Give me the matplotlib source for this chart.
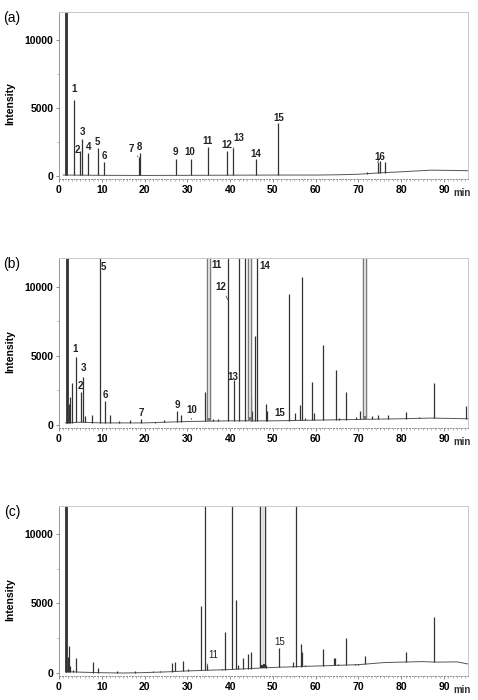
import numpy as np
import matplotlib
matplotlib.use("Agg")
import matplotlib.pyplot as plt
from matplotlib.ticker import MultipleLocator

plt.rcParams["font.family"] = ["Liberation Sans", "DejaVu Sans"]

# ---- panel (a) ----
base_t_a = [1.0, 10, 20, 30, 40, 50, 60, 65, 70, 75, 80, 87, 92, 95.6]
base_y_a = [60, 40, 30, 40, 50, 60, 60, 80, 120, 220, 300, 420, 400, 380]
peak_t_a = [1.6, 3.6, 4.9, 5.4, 6.85, 9.1, 10.5, 18.6, 18.9, 27.3, 30.8, 34.9,
            39.3, 40.7, 46.0, 51.3, 72.0, 74.5, 75.1, 76.2]
peak_h_a = [15000, 5600, 1800, 2700, 1700, 2050, 1050, 1400, 1700, 1250, 1250, 2150,
            1850, 2050, 1270, 3870, 300, 1000, 1100, 1050]
wide_t_a = []
lab_a = ["1", "2", "3", "4", "5", "6", "7", "8", "9", "10", "11", "12", "13", "14", "15", "16"]
lab_x_a = [3.5, 4.4, 5.4, 6.85, 8.95, 10.5, 16.8, 18.9, 27.3, 30.6, 34.8, 39.2, 42.0, 46.0, 51.3, 75.0]
lab_y_a = [6370, 1910, 3190, 2150, 2520, 1490, 1950, 2130, 1760, 1760, 2550, 2250, 2750, 1590, 4260, 1420]
lead_a = {"7": (18.5, 1400), "13": (40.8, 2050), "16": (74.5, 1000)}

# ---- panel (b) ----
base_t_b = [1.5, 5, 10, 20, 30, 40, 50, 60, 70, 80, 87, 95.6]
base_y_b = [150, 200, 150, 150, 250, 300, 300, 350, 400, 450, 500, 450]
peak_t_b = [1.8, 2.3, 2.6, 2.97, 3.9, 5.2, 5.7, 6.1, 7.8, 9.6, 10.75, 12.0, 14.0, 16.5,
            19.2, 22.5, 24.5, 27.6, 28.6, 31.0, 34.1, 36.0, 37.2, 39.6, 41.0, 42.06,
            43.4, 44.9, 45.2, 45.8, 46.3, 48.3, 48.6, 51.5, 53.8, 55.1, 56.3, 56.7,
            57.5, 59.2, 59.5, 61.8, 64.7, 65.5, 67.2, 69.5, 70.3, 73.2, 74.5, 77.0,
            81.2, 84.2, 87.6, 95.2]
peak_h_b = [15000, 1500, 2000, 3070, 4950, 2400, 3500, 650, 700, 15000, 1720, 700, 300, 350,
            440, 250, 350, 1000, 700, 300, 2370, 400, 450, 15000, 3260, 15000,
            15000, 2050, 1000, 6450, 15000, 1520, 1000, 300, 9500, 900, 1450, 10700,
            500, 3100, 900, 5800, 4000, 500, 2420, 600, 1000, 650, 750, 700,
            950, 600, 3070, 1400]
wide_t_b = [35.1, 44.6, 71.5]
lab_b = ["1", "2", "3", "5", "6", "7", "9", "10", "11", "12", "13", "14", "15"]
lab_x_b = [3.8, 4.9, 5.7, 10.4, 10.8, 19.2, 27.6, 31.1, 36.7, 37.9, 40.7, 48.0, 51.6]
lab_y_b = [5510, 2850, 4160, 11480, 2175, 900, 1470, 1050, 11600, 10000, 3500, 11530, 900]
lead_b = {"10": (31.0, 400), "12": (39.5, 9060), "14": (46.5, 10870)}

# ---- panel (c) ----
base_t_c = [1.5, 5, 10, 15, 20, 25, 30, 35, 40, 50, 60, 70, 76, 85, 88, 93, 95.6]
base_y_c = [100, 60, 20, 0, 30, 80, 150, 200, 250, 400, 500, 600, 750, 820, 780, 800, 650]
peak_t_c = [1.6, 2.1, 2.3, 2.6, 3.2, 4.0, 8.0, 9.1, 13.6, 17.8, 22.0, 23.5, 26.3, 27.2,
            29.0, 30.2, 33.3, 34.2, 34.6, 38.0, 38.8, 40.5, 41.4, 41.8, 42.9, 44.2,
            44.8, 48.4, 51.5, 53.0, 54.6, 55.4, 56.5, 56.8, 57.5, 59.0, 61.6, 64.3,
            64.6, 65.3, 67.2, 69.2, 70.0, 71.5, 81.2, 87.7]
peak_h_c = [15000, 1160, 1930, 500, 250, 1050, 800, 350, 150, 120, 150, 150, 740, 760,
            880, 300, 4850, 15000, 600, 300, 2950, 15000, 5260, 600, 1050, 1330,
            1480, 600, 1800, 400, 800, 15000, 2070, 1500, 600, 500, 1760, 1100,
            1100, 650, 2520, 650, 650, 1210, 1520, 4020]
wide_t_c = [47.4, 47.8]
lab_c = ["11", "15"]
lab_x_c = [36.0, 51.5]
lab_y_c = [1300, 2240]
lead_c = {"11": (34.6, 550)}

panels = [
    ("(a)", base_t_a, base_y_a, peak_t_a, peak_h_a, wide_t_a, lab_a, lab_x_a, lab_y_a, lead_a, "bold"),
    ("(b)", base_t_b, base_y_b, peak_t_b, peak_h_b, wide_t_b, lab_b, lab_x_b, lab_y_b, lead_b, "bold"),
    ("(c)", base_t_c, base_y_c, peak_t_c, peak_h_c, wide_t_c, lab_c, lab_x_c, lab_y_c, lead_c, "normal"),
]

W, H = 478, 700
fig = plt.figure(figsize=(W / 100, H / 100), dpi=100)

# axes boxes in pixels: (top, bottom)
boxes = [(12, 179), (258, 428), (506, 676)]
ylims = [(-230, 12050), (-220, 12100), (-215, 12000)]
wide_col = ["#444444", "#777777", "#333333"]
left_px, right_px = 59, 468

for i, (tag, bt, by, pt, ph, wt, labs, lx, ly, leads, lw8) in enumerate(panels):
    top, bot = boxes[i]
    ax = fig.add_axes([left_px / W, 1 - bot / H, (right_px - left_px) / W, (bot - top) / H])
    ax.set_xlim(0, 95.6)
    ax.set_ylim(*ylims[i])

    # baseline
    ax.plot(bt, by, color="#555555", lw=0.7)
    # peaks from baseline up
    feet = np.interp(pt, bt, by)
    ax.vlines(pt, feet, ph, color="#333333", lw=0.9)
    ax.vlines(pt[0], feet[0], ph[0], color="#333333", lw=2.0)
    if wt:
        wf = np.interp(wt, bt, by)
        ax.vlines(wt, wf, 15000, color=wide_col[i], lw=3.2)
        ax.vlines(wt, wf + 250, 15000, color="#dddddd", lw=1.5)

    # peak labels
    for s, x, y in zip(labs, lx, ly):
        if s in leads:
            ax.annotate(s, xy=leads[s], xytext=(x, y), fontsize=7, fontweight=lw8,
                        ha="center", va="center", color="#222222",
                        arrowprops=dict(arrowstyle="-", lw=0.5, color="#333333",
                                        shrinkA=1, shrinkB=0))
        else:
            ax.text(x, y, s, fontsize=7, fontweight=lw8, ha="center", va="center",
                    color="#222222")

    # axes styling
    for side in ["top", "right"]:
        ax.spines[side].set_color("#c8c8c8")
        ax.spines[side].set_linewidth(0.7)
    ax.spines["left"].set_color("#888888")
    ax.spines["left"].set_linewidth(0.6)
    ax.spines["bottom"].set_color("#888888")
    ax.spines["bottom"].set_linewidth(0.7)
    ax.spines["bottom"].set_linestyle((0, (1, 2)))

    ax.set_xticks(np.arange(0, 91, 10))
    ax.xaxis.set_minor_locator(MultipleLocator(1))
    ax.set_yticks([0, 5000, 10000])
    ax.yaxis.set_minor_locator(MultipleLocator(2500))
    ax.tick_params(axis="both", which="major", labelsize=7.5, length=2.5, width=0.6,
                   color="#777777", pad=1.5)
    ax.tick_params(axis="both", which="minor", length=1.5, width=0.5, color="#999999")
    for lab in ax.get_xticklabels() + ax.get_yticklabels():
        lab.set_fontweight("bold")

    ax.set_ylabel("Intensity", fontsize=7.5, fontweight="bold", labelpad=0)
    ax.yaxis.set_label_coords(-0.108, 0.45)
    ax.text(0.985, -0.085, "min", transform=ax.transAxes, fontsize=7, fontweight="bold",
            ha="center", va="center", color="#333333")

    fig.text(12 / W, 1 - (top + 6) / H, tag, fontsize=10, ha="center", va="center")

fig.savefig("out.png", dpi=100)
